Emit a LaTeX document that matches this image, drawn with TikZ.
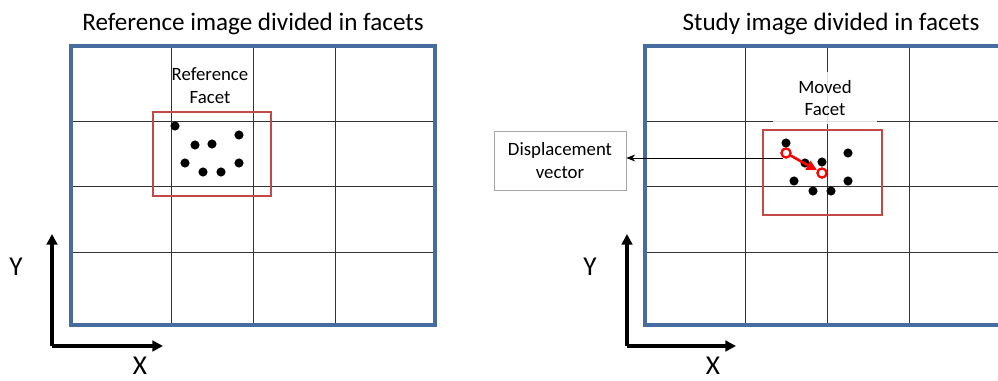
\documentclass[tikz,border=0pt]{standalone}
\usepackage{fontspec}
\setmainfont{Carlito}
\usetikzlibrary{arrows.meta,positioning}
\definecolor{frameblue}{RGB}{70,108,160}
\definecolor{facetred}{RGB}{196,72,70}

\begin{document}
\begin{tikzpicture}[x=0.02cm, y=-0.02cm,
  gridline/.style={draw=black!80, line width=0.5pt},
  frame/.style={draw=frameblue, line width=1.9pt},
  facet/.style={draw=facetred, line width=1.6pt},
  dot/.style={fill=black},
  hollow/.style={circle, draw=red, fill=white, line width=1.2pt, inner sep=0pt, minimum size=0.18cm},
  axis/.style={-{Triangle[length=6pt,width=6pt]}, line width=2pt},
  title/.style={font=\fontsize{14.3}{17}\selectfont},
  facetlabel/.style={font=\fontsize{10.7}{13}\selectfont, align=center, inner sep=1pt},
  axislabel/.style={font=\fontsize{15.5}{18}\selectfont, inner sep=0pt},
  dispbox/.style={draw=black!35, line width=0.5pt, align=center, font=\fontsize{10.7}{13}\selectfont,
    minimum width=2.64cm, minimum height=1.18cm}]
  \clip (0,0) rectangle (998,381);

  % titles
  \node [title] (refTitle) at (253,24) {Reference image divided in facets};
  \node [title] (studyTitle) at (831,24) {Study image divided in facets};

  % reference image grid
  \draw [gridline] (171,46) -- (171,325) (253,46) -- (253,325) (335,46) -- (335,325)
    (71,121) -- (435,121) (71,186) -- (435,186) (71,252) -- (435,252);
  \draw [frame] (71,46) rectangle (435,325);

  % study image grid
  \draw [gridline] (745,46) -- (745,325) (827,46) -- (827,325) (909,46) -- (909,325)
    (645,121) -- (1009,121) (645,186) -- (1009,186) (645,252) -- (1009,252);
  \draw [frame] (645,46) rectangle (1009,325);

  % facets
  \draw [facet] (153,112) rectangle (271,196);
  \draw [facet] (763,130) rectangle (882,215);
  \foreach \p in {(175,126),(239,135),(195,145),(212,144),(185,163),(239,163),(203,172),(221,172)}
    \fill [dot] \p circle [radius=2.6pt];
  \foreach \p in {(786,143),(848,153),(805,163),(822,162),(794,181),(848,181),(813,191),(831,191)}
    \fill [dot] \p circle [radius=2.6pt];

  \node [facetlabel] (refLabel) at (210,86) {Reference\\Facet};
  \node [facetlabel, fill=white, fill opacity=0.85, text opacity=1,
    minimum width=2.1cm, minimum height=1.04cm] (movedLabel) at (825,98) {Moved\\Facet};

  % displacement vector
  \node [hollow] (p0) at (786,153) {};
  \node [hollow] (p1) at (822,173) {};
  \draw [-{Triangle[length=6pt,width=5.5pt]}, draw=red, fill=red, line width=1.5pt] (p0) -- (p1);
  \node [hollow] at (p0) {};
  \node [hollow] at (p1) {};

  \node [dispbox] (disp) at (560,160.5) {Displacement\\vector};
  \coordinate (dispStart) at (783,158);
  \draw [-{Stealth[length=5pt,width=4pt]}, line width=0.5pt] (dispStart) -- (disp.east |- dispStart);

  % axes
  \coordinate (refOrigin) at (52,346);
  \coordinate (refYend) at (52,234);
  \coordinate (refXend) at (163,346);
  \draw [axis] (refOrigin) -- (refYend);
  \draw [axis] (refOrigin) -- (refXend);
  \node [axislabel] (refY) at (16,267) {Y};
  \node [axislabel] (refX) at (140,366) {X};

  \coordinate (studyOrigin) at (627,346);
  \coordinate (studyYend) at (627,234);
  \coordinate (studyXend) at (736,346);
  \draw [axis] (studyOrigin) -- (studyYend);
  \draw [axis] (studyOrigin) -- (studyXend);
  \node [axislabel] (studyY) at (590,267) {Y};
  \node [axislabel] (studyX) at (713,366) {X};
\end{tikzpicture}
\end{document}
